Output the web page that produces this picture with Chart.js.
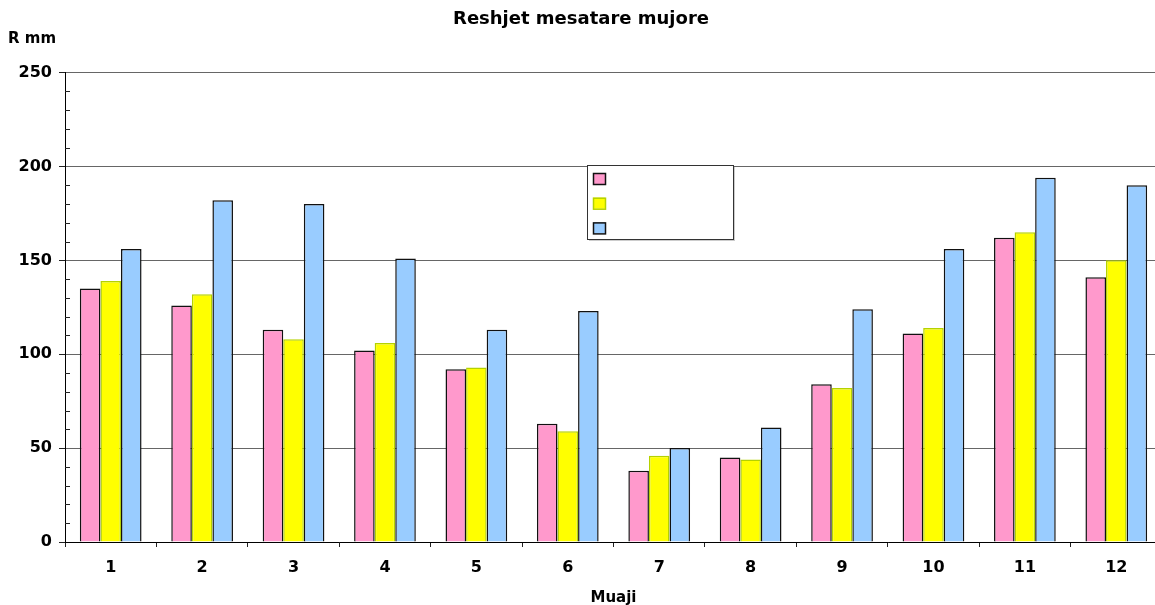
<!DOCTYPE html>
<html>
<head>
<meta charset="utf-8">
<script src="https://cdn.jsdelivr.net/npm/chart.js@4/dist/chart.umd.min.js"></script>
<style>
    html, body { margin: 0; padding: 0; background: #fff; overflow: hidden; }
    #wrap { width: 1170px; height: 605px; }
</style>
</head>
<body>
<div id="wrap"><canvas id="grafica" width="1170" height="605"></canvas></div>
<script>
// Reshjet mesatare mujore (mm) per muaj, tre seri
const muajt = ["1", "2", "3", "4", "5", "6", "7", "8", "9", "10", "11", "12"];
const seria1 = [135, 126, 113, 102, 92, 63, 38, 45, 84, 111, 162, 141];
const seria2 = [139, 132, 108, 106, 93, 59, 46, 44, 82, 114, 165, 150];
const seria3 = [156, 182, 180, 151, 113, 123, 50, 61, 124, 156, 194, 190];
const etiketatSerive = ["", "", ""];

const fonti = "'DejaVu Sans', sans-serif";

// vijat e vogla te boshtit Y (cdo 10 mm), brenda zones
const vijatVogla = {
    id: 'vijatVogla',
    afterDraw(chart) {
        const y = chart.scales.y;
        const ctx = chart.ctx;
        ctx.save();
        ctx.strokeStyle = '#222';
        ctx.lineWidth = 1;
        for (let v = 10; v < 250; v += 10) {
            if (v % 50 === 0) continue;
            const py = Math.round(y.getPixelForValue(v)) + 0.5;
            ctx.beginPath();
            ctx.moveTo(y.right, py);
            ctx.lineTo(y.right + 5, py);
            ctx.stroke();
        }
        // titulli i boshtit Y, horizontal mbi bosht
        ctx.fillStyle = '#000';
        ctx.font = "bold 15px " + fonti;
        ctx.textBaseline = 'alphabetic';
        ctx.textAlign = 'left';
        ctx.fillText("R mm", 8, 43);
        ctx.restore();
    }
};

// legjenda pa tekst, brenda grafikut
const legjenda = {
    id: 'legjenda',
    afterDraw(chart) {
        const ctx = chart.ctx;
        ctx.save();
        ctx.fillStyle = 'rgba(0,0,0,0.2)';
        ctx.fillRect(589, 167, 146, 74);
        ctx.fillStyle = '#fff';
        ctx.fillRect(587, 165, 146, 74);
        ctx.strokeStyle = '#333';
        ctx.lineWidth = 1;
        ctx.strokeRect(587.5, 165.5, 146, 74);
        chart.data.datasets.forEach((ds, i) => {
            const yy = 173 + i * 24.7;
            ctx.fillStyle = ds.backgroundColor;
            ctx.fillRect(593, yy, 12, 11);
            ctx.strokeStyle = ds.borderColor;
            ctx.lineWidth = 1.5;
            ctx.strokeRect(593.5, yy + 0.5, 12, 11);
            ctx.fillStyle = '#000';
            ctx.font = "12px " + fonti;
            ctx.textBaseline = 'middle';
            ctx.fillText(ds.label, 612, yy + 6);
        });
        ctx.restore();
    }
};

const ctx = document.getElementById('grafica').getContext('2d');
const grafica = new Chart(ctx, {
    type: 'bar',
    data: {
        labels: muajt,
        datasets: [
            {
                label: etiketatSerive[0],
                data: seria1,
                backgroundColor: '#FF99CC',
                borderColor: '#111',
                borderWidth: 1.5
            },
            {
                label: etiketatSerive[1],
                data: seria2,
                backgroundColor: '#FFFF00',
                borderColor: '#B5D100',
                borderWidth: 1.5
            },
            {
                label: etiketatSerive[2],
                data: seria3,
                backgroundColor: '#99CCFF',
                borderColor: '#111',
                borderWidth: 1.5
            }
        ]
    },
    options: {
        responsive: false,
        animation: false,
        devicePixelRatio: 1,
        layout: { padding: { top: 0, left: 0, right: 8, bottom: 0 } },
        datasets: {
            bar: { categoryPercentage: 0.675, barPercentage: 1.0 }
        },
        plugins: {
            legend: { display: false },
            tooltip: { enabled: false },
            title: {
                display: true,
                text: "Reshjet mesatare mujore",
                color: '#000',
                font: { family: fonti, size: 18, weight: 'bold' },
                padding: { top: 9, bottom: 42 }
            }
        },
        scales: {
            x: {
                offset: true,
                grid: {
                    offset: true,
                    drawOnChartArea: false,
                    tickLength: 5,
                    tickColor: '#222'
                },
                border: { color: '#000', width: 1 },
                ticks: {
                    color: '#000',
                    font: { family: fonti, size: 16, weight: 'bold' },
                    padding: 11,
                    maxRotation: 0,
                    autoSkip: false
                },
                title: {
                    display: true,
                    text: "Muaji",
                    color: '#000',
                    font: { family: fonti, size: 15, weight: 'bold' },
                    padding: { top: 0, bottom: -2 }
                },
                afterFit(scale) { scale.height = 63; }
            },
            y: {
                min: 0,
                max: 250,
                ticks: {
                    stepSize: 50,
                    color: '#000',
                    font: { family: fonti, size: 16, weight: 'bold' },
                    padding: 7
                },
                grid: {
                    color: '#666',
                    lineWidth: 1,
                    tickLength: 6,
                    tickColor: '#222'
                },
                border: { color: '#000', width: 1 },
                afterFit(scale) { scale.width = 65; }
            }
        }
    },
    plugins: [vijatVogla, legjenda]
});
</script>
</body>
</html>
